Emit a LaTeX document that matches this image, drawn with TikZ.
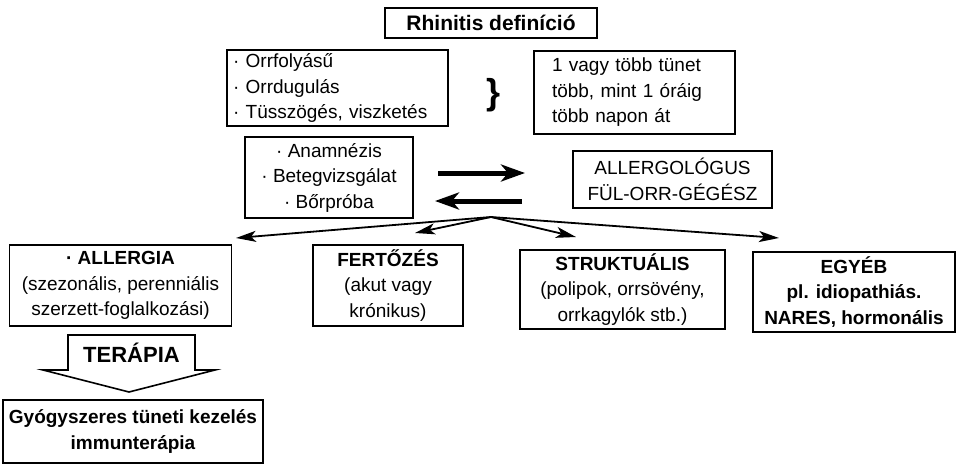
\documentclass[tikz,border=0pt]{standalone}
\usepackage{fontspec}
\setmainfont{Liberation Sans}
\usetikzlibrary{positioning,arrows.meta}

\tikzset{
  box/.style={draw, line width=1.6pt, inner sep=0pt, align=center,
    font=\fontsize{19}{25.5}\selectfont},
  fan/.style={line width=1.8pt, -{Stealth[length=20pt,width=11pt,inset=5pt]}},
  swap/.style={line width=5pt, -{Stealth[length=24pt,width=17pt,inset=7pt]}},
}

\begin{document}
\begin{tikzpicture}[x=1pt,y=-1pt]
\useasboundingbox (0,0) rectangle (956,466);

% definition, symptoms, duration
\node[box, minimum width=212pt, minimum height=30pt,
  font=\bfseries\fontsize{21}{24}\selectfont] (title) at (491,23) {Rhinitis definíció};
\node[box, minimum width=221pt, minimum height=76pt, text width=209pt, align=left]
  (symp) at (337.5,88) {· Orrfolyásű\\· Orrdugulás\\· Tüsszögés, viszketés};
\node[inner sep=0pt, font=\bfseries\fontsize{36}{36}\selectfont,
  right=37pt of symp, yshift=-7pt] (brace) {\}};
\node[box, minimum width=201pt, minimum height=83pt, text width=165pt, align=left]
  (durat) at (634.5,92.5) {1 vagy több tünet\\több, mint 1 óráig\\több napon át};

% diagnosis
\node[box, minimum width=168pt, minimum height=81pt] (vizsg) at (329,177.5)
  {· Anamnézis\\· Betegvizsgálat\\· Bőrpróba};
\node[box, minimum width=199pt, minimum height=57pt] (orvos) at (672.5,179.5)
  {ALLERGOLÓGUS\\FÜL-ORR-GÉGÉSZ};
\coordinate (r1) at (438,173); \coordinate (r2) at (525,173);
\coordinate (l1) at (522,201); \coordinate (l2) at (435,201);
\draw[swap] (r1) -- (r2);
\draw[swap] (l1) -- (l2);

% forms
\node[box, minimum width=222pt, minimum height=81pt] (allergia) at (120.5,285.5)
  {\textbf{· ALLERGIA}\\(szezonális, perenniális\\szerzett-foglalkozási)};
\node[box, minimum width=150pt, minimum height=81pt] (fert) at (388,285.5)
  {\textbf{FERTŐZÉS}\\(akut vagy\\krónikus)};
\node[box, minimum width=205pt, minimum height=79pt] (strukt) at (622.5,289.5)
  {\textbf{STRUKTUÁLIS}\\(polipok, orrsövény,\\orrkagylók stb.)};
\node[box, minimum width=202pt, minimum height=80pt, font=\bfseries\fontsize{19}{25.5}\selectfont]
  (egyeb) at (854,292) {EGYÉB\\pl. idiopathiás.\\NARES, hormonális};

\coordinate (root) at (491,217);
\coordinate (tA) at (236,238); \coordinate (tF) at (415,233);
\coordinate (tS) at (576,237); \coordinate (tE) at (779,238);
\foreach \t in {tA,tF,tS,tE}{\draw[fan] (root) -- (\t);}

% therapy
\draw[line width=1.6pt, line join=miter] (68,335) -- (195,335) -- (195,370) -- (215,370)
  -- (129,392) -- (43,370) -- (68,370) -- cycle;
\node[inner sep=0pt, font=\bfseries\fontsize{22}{24}\selectfont] (terapia) at (131.5,353) {TERÁPIA};
\node[box, minimum width=260pt, minimum height=63pt, font=\bfseries\fontsize{19}{25.5}\selectfont]
  (kezeles) at (133,431.5) {Gyógyszeres tüneti kezelés\\immunterápia};
\end{tikzpicture}
\end{document}
